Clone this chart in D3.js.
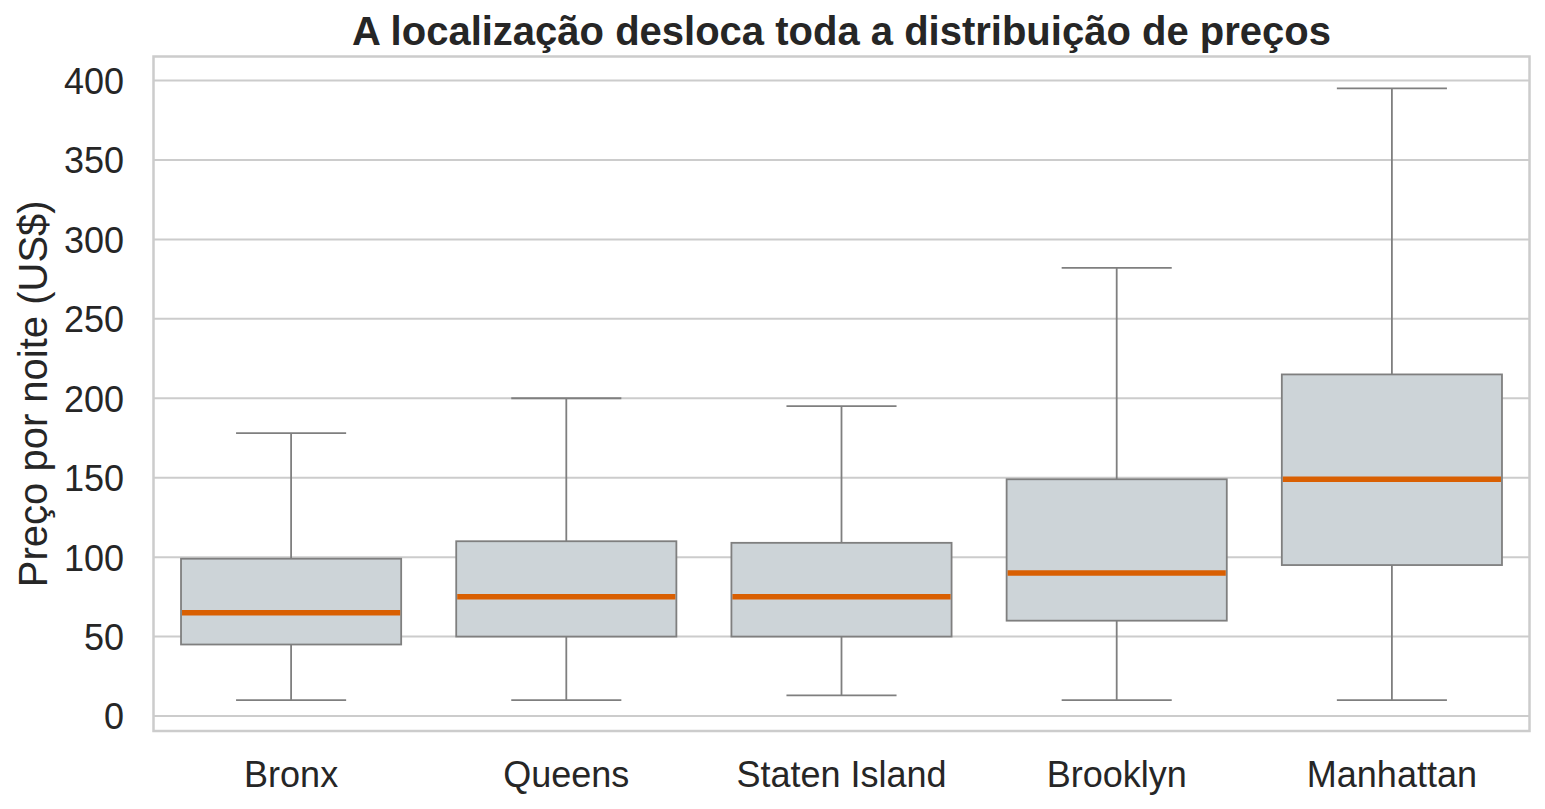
<!DOCTYPE html>
<html><head><meta charset="utf-8">
<script src="https://cdn.jsdelivr.net/npm/d3@7"></script>
<style>body{margin:0;background:#fff;}</style>
</head><body>
<svg id="c" width="1545" height="809"></svg>
<script>
const categories = ["Bronx","Queens","Staten Island","Brooklyn","Manhattan"];
const whiskerLow = [10,10,13,10,10];
const q1 = [45,50,50,60,95];
const median = [65,75,75,90,149];
const q3 = [99,110,109,149,215];
const whiskerHigh = [178,200,195,282,395];
const yTicks = [0,50,100,150,200,250,300,350,400];

const svg = d3.select("#c");
const L=153.5, R=1529.5, T=56.5, B=731;
const x = d3.scaleBand().domain(categories).range([L,R]).paddingInner(0).paddingOuter(0);
const y = d3.scaleLinear().domain([0,400]).range([716,80.5]);
const font = "'Liberation Sans', Arial, sans-serif";

// grid
svg.append("g").selectAll("line").data(yTicks).join("line")
  .attr("x1",L).attr("x2",R).attr("y1",d=>y(d)).attr("y2",d=>y(d))
  .attr("stroke","#cccccc").attr("stroke-width",2);

// y axis
const ya = svg.append("g").attr("transform",`translate(${L},0)`)
  .call(d3.axisLeft(y).tickValues(yTicks).tickSize(0).tickPadding(29.5));
ya.select(".domain").remove();
ya.selectAll("text").attr("font-family",font).attr("font-size",36).attr("fill","#262626").attr("dy","0.36em");

// x axis
const xa = svg.append("g").attr("transform",`translate(0,${B})`)
  .call(d3.axisBottom(x).tickSize(0).tickPadding(30));
xa.select(".domain").remove();
xa.selectAll("text").attr("font-family",font).attr("font-size",36).attr("fill","#262626");

const data = categories.map((c,i)=>({c,lo:whiskerLow[i],q1:q1[i],med:median[i],q3:q3[i],hi:whiskerHigh[i]}));
const bw = x.bandwidth()*0.8;
const g = svg.append("g");
const gray = "#7f7f7f";
const sw = 1.8;
data.forEach(d=>{
  const cx = x(d.c)+x.bandwidth()/2;
  g.append("line").attr("x1",cx).attr("x2",cx).attr("y1",y(d.lo)).attr("y2",y(d.q1)).attr("stroke",gray).attr("stroke-width",sw);
  g.append("line").attr("x1",cx).attr("x2",cx).attr("y1",y(d.q3)).attr("y2",y(d.hi)).attr("stroke",gray).attr("stroke-width",sw);
  g.append("line").attr("x1",cx-bw/4).attr("x2",cx+bw/4).attr("y1",y(d.lo)).attr("y2",y(d.lo)).attr("stroke",gray).attr("stroke-width",sw);
  g.append("line").attr("x1",cx-bw/4).attr("x2",cx+bw/4).attr("y1",y(d.hi)).attr("y2",y(d.hi)).attr("stroke",gray).attr("stroke-width",sw);
  g.append("rect").attr("x",cx-bw/2).attr("width",bw).attr("y",y(d.q3)).attr("height",y(d.q1)-y(d.q3))
    .attr("fill","#cdd4d8").attr("stroke",gray).attr("stroke-width",sw);
  g.append("line").attr("x1",cx-bw/2+1).attr("x2",cx+bw/2-1).attr("y1",y(d.med)).attr("y2",y(d.med))
    .attr("stroke","#d95f02").attr("stroke-width",5.5);
});

// frame
svg.append("rect").attr("x",L).attr("y",T).attr("width",R-L).attr("height",B-T)
  .attr("fill","none").attr("stroke","#cccccc").attr("stroke-width",2.5);

// title
svg.append("text").attr("x",(L+R)/2).attr("y",45).attr("text-anchor","middle")
  .attr("font-family",font).attr("font-weight","bold").attr("font-size",40).attr("fill","#262626")
  .text("A localização desloca toda a distribuição de preços");

// y label
svg.append("text").attr("transform",`translate(47,${(T+B)/2}) rotate(-90)`).attr("text-anchor","middle")
  .attr("font-family",font).attr("font-size",40).attr("fill","#262626")
  .text("Preço por noite (US$)");
</script>
</body></html>
